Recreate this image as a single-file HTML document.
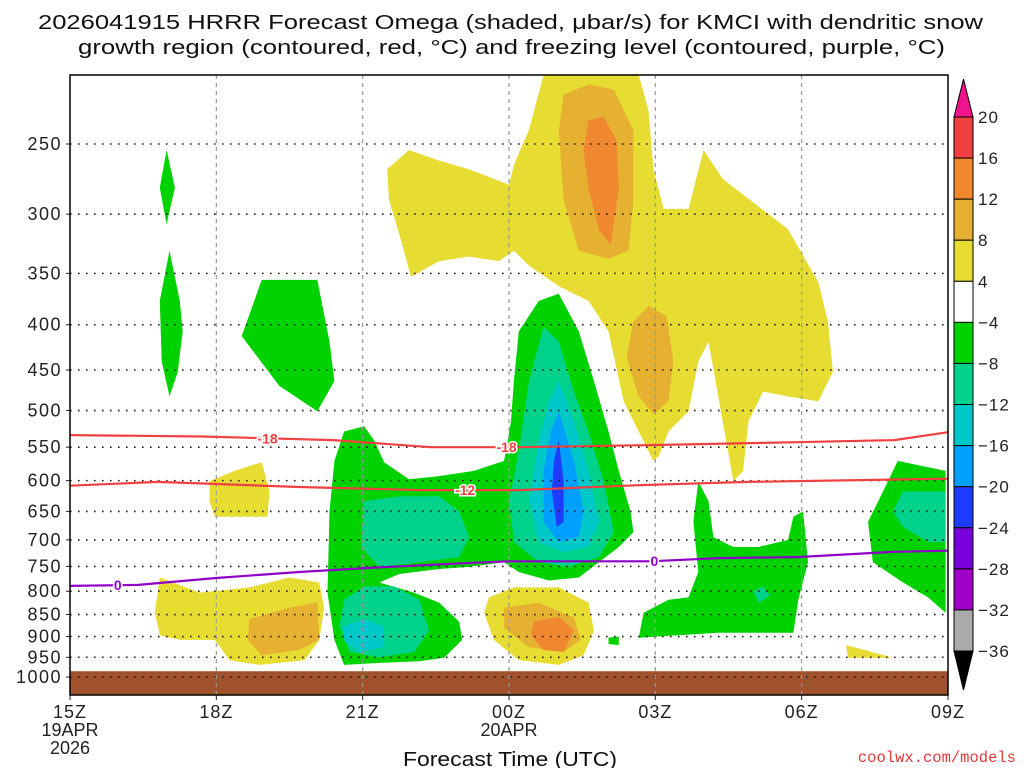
<!DOCTYPE html>
<html><head><meta charset="utf-8">
<style>
html,body{margin:0;padding:0;background:#fff;}
svg{display:block;font-family:"Liberation Sans",sans-serif;}
</style></head>
<body>
<svg id="chart" width="1024" height="768" viewBox="0 0 1024 768">
<rect x="0" y="0" width="1024" height="768" fill="#fff"/>
<text x="38" y="29" textLength="945" lengthAdjust="spacingAndGlyphs" font-size="20" fill="#111">2026041915 HRRR Forecast Omega (shaded, μbar/s) for KMCI with dendritic snow</text>
<text x="78" y="54" textLength="867" lengthAdjust="spacingAndGlyphs" font-size="20" fill="#111">growth region (contoured, red, °C) and freezing level (contoured, purple, °C)</text>
<g id="shade"></g>
<g id="grid"></g>
<g id="lines"></g>
<g id="axes"></g>
<g id="cbar"></g>
<text x="403" y="766" textLength="214" lengthAdjust="spacingAndGlyphs" font-size="20" fill="#111">Forecast Time (UTC)</text>
<text x="1016" y="762" text-anchor="end" font-size="15.5" fill="#e03a3a" font-family="Liberation Mono, monospace">coolwx.com/models</text>
</svg>
<script>
// ---- data ----
const pressureTicks = [250,300,350,400,450,500,550,600,650,700,750,800,850,900,950,1000];
const timeTickHours = [0,3,6,9,12,15,18];
const timeTickLabels = ["15Z","18Z","21Z","00Z","03Z","06Z","09Z"];
const dateLabels = {0:["19APR","2026"],9:["20APR"]};
const cbLevels = [20,16,12,8,4,-4,-8,-12,-16,-20,-24,-28,-32,-36];
const cbColors = ["#f04040","#f08830","#e6b030","#e6dc32","#ffffff","#00d200","#00d28c","#00c8c8","#00a0ff","#1e3cff","#7800dc","#a000c8","#aaaaaa"];
const minus18Hours = [0,2.7,5.4,7.4,9.2,11.9,14.9,16.9,18];
const minus18P = [533,535,540,550,550,547,543,540,529];
const minus12Hours = [0,1.8,4.7,7.2,9.2,11.7,13.9,18];
const minus12P = [608,602,610,615,615,607,602,597];
const zeroHours = [0,1.4,3.0,4.7,6.1,7.8,9.0,11.9,13.3,14.9,16.9,18];
const zeroP = [789,787,773,761,753,745,740,740,734,732,722,720];
const yellowTop = [[6.5,267],[6.95,254],[7.57,261],[8.18,267],[9.0,278],[9.1,264],[9.41,241],[9.71,209],[11.66,209],[11.86,229],[11.96,267],[12.17,296],[12.68,296],[12.99,254],[13.39,274],[14.72,312],[15.34,358],[15.54,397],[15.64,452],[15.34,488],[14.72,482],[14.21,476],[13.91,514],[13.8,585],[13.6,601],[13.09,418],[12.88,440],[12.68,501],[12.27,528],[12.07,563],[11.96,570],[11.66,528],[11.35,488],[11.04,407],[10.63,376],[10.02,362],[9.41,343],[9.1,330],[8.79,339],[8.18,335],[7.57,339],[6.99,353],[6.75,316],[6.54,289]];
const orangeTop = [[10.12,220],[10.63,214],[11.15,217],[11.55,241],[11.55,289],[11.45,330],[11.04,337],[10.43,330],[10.12,289],[10.02,241]];
const darkOrangeTop = [[10.63,235],[10.94,233],[11.21,248],[11.25,281],[11.08,325],[10.84,312],[10.63,281],[10.53,254]];
const orangeMid = [[11.86,381],[12.23,391],[12.37,440],[12.27,488],[11.96,505],[11.66,482],[11.41,435],[11.55,397]];
const green1 = [[1.98,254],[2.15,280],[1.98,308],[1.84,280]];
const green2 = [[2.04,330],[2.25,376],[2.31,407],[2.21,452],[2.04,482],[1.88,440],[1.84,376]];
const green3 = [[3.93,356],[5.07,356],[5.32,418],[5.42,463],[5.07,501],[4.29,469],[3.52,412]];
const greenBig = [[9.2,407],[9.61,376],[10.02,369],[10.43,407],[10.74,463],[11.04,528],[11.25,585],[11.49,650],[11.55,686],[11.25,713],[10.84,742],[10.43,772],[9.82,778],[9.2,761],[8.9,742],[8.18,751],[7.57,755],[6.75,765],[6.34,782],[7.06,803],[7.57,824],[7.98,866],[8.04,908],[7.67,951],[7.16,960],[6.34,964],[5.62,969],[5.42,908],[5.28,803],[5.32,650],[5.42,570],[5.62,528],[6.03,521],[6.24,541],[6.44,572],[6.95,598],[7.57,593],[8.28,585],[8.9,570],[9.04,514],[9.1,463]];
const teal21a = [[6.03,633],[6.75,625],[7.57,625],[7.98,650],[8.18,695],[7.98,732],[7.16,742],[6.34,751],[5.97,713]];
const teal21b = [[5.62,818],[6.03,790],[6.65,790],[7.16,818],[7.36,886],[7.06,937],[6.34,950],[5.73,937],[5.52,876]];
const cyan21 = [[5.62,876],[6.03,860],[6.44,876],[6.44,925],[5.93,937],[5.62,910]];
const tealBlob = [[9.71,402],[10.02,418],[10.33,476],[10.63,528],[10.94,601],[11.15,686],[10.84,732],[10.22,751],[9.61,742],[9.1,704],[9.0,633],[9.2,556],[9.41,463]];
const cyanBlob = [[10.02,463],[10.33,514],[10.63,585],[10.84,668],[10.63,713],[10.12,723],[9.61,704],[9.41,633],[9.61,541],[9.82,488]];
const blueBlob = [[10.02,501],[10.33,570],[10.53,650],[10.43,695],[10.02,704],[9.71,668],[9.71,585],[9.86,528]];
const darkBlueBlob = [[10.02,540],[10.12,601],[10.12,668],[9.98,677],[9.88,617],[9.92,570]];
const greenRight = [[12.88,601],[13.09,633],[13.19,695],[13.6,713],[14.11,713],[14.72,700],[14.83,659],[15.03,650],[15.13,742],[14.93,818],[14.83,891],[14.11,891],[13.29,891],[12.47,897],[11.66,903],[11.76,846],[12.27,818],[12.68,813],[12.88,761],[12.78,668]];
const tealRightSmall = [[14.01,800],[14.21,790],[14.35,808],[14.11,825]];
const greenBit = [[11.04,903],[11.25,900],[11.25,920],[11.04,918]];
const greenFar = [[16.97,570],[17.95,585],[17.95,846],[17.59,813],[17.08,782],[16.46,742],[16.36,668],[16.67,617]];
const tealFar = [[17.08,617],[17.95,617],[17.95,704],[17.59,704],[17.08,677],[16.87,650]];
const yellowLowLeft = [[1.84,772],[2.66,803],[3.68,792],[4.5,772],[5.11,782],[5.21,835],[5.11,908],[4.81,957],[3.89,969],[3.27,957],[2.97,908],[2.25,908],[1.84,897],[1.74,846]];
const orangeLowLeft = [[3.68,860],[4.5,835],[5.07,824],[5.11,908],[4.7,932],[3.93,945],[3.64,908]];
const yellowSmall = [[2.86,601],[3.37,585],[3.93,572],[4.09,617],[4.05,659],[2.97,659],[2.86,633]];
const yellowLowMid = [[8.59,813],[9.1,792],[10.02,792],[10.63,824],[10.74,886],[10.53,945],[10.02,969],[9.2,957],[8.69,908],[8.49,846]];
const orangeLowMid = [[8.9,835],[9.61,824],[10.33,857],[10.47,908],[10.12,937],[9.41,925],[8.9,880]];
const darkOrangeLowMid = [[9.51,866],[10.02,855],[10.33,886],[10.12,937],[9.71,932],[9.45,897]];
const yellowFarRight = [[15.91,920],[16.87,951],[15.95,951]];
const groundTopP = 985;

// ---- axes ----
const X0=70, X1=948, Y0=75, Y1=695;
const xScale = h => X0 + h*(X1-X0)/18;
const yScale = p => 144 + 384.5*Math.log(p/250);
const NS="http://www.w3.org/2000/svg";
function mk(tag, attrs, parent){const e=document.createElementNS(NS,tag);for(const k in attrs)e.setAttribute(k,attrs[k]);parent.appendChild(e);return e;}
const shade=document.getElementById('shade'), grid=document.getElementById('grid'), lines=document.getElementById('lines'), axes=document.getElementById('axes'), cbar=document.getElementById('cbar');

function poly(pts, color, name){
  const d = pts.map(q=>xScale(q[0]).toFixed(1)+','+yScale(q[1]).toFixed(1)).join(' ');
  const e = mk('polygon',{points:d,fill:color},shade);
  
  
}
const shapes = [
 [yellowTop,3,'omega-4to8-upper'],[orangeTop,2,'omega-8to12-upper'],[darkOrangeTop,1,'omega-12to16-upper'],[orangeMid,2,'omega-8to12-mid'],
 [green1,5,'omega-neg4-a'],[green2,5,'omega-neg4-b'],[green3,5,'omega-neg4-c'],[greenBig,5,'omega-neg4-main'],
 [teal21a,6,'omega-neg8-21z'],[teal21b,6,'omega-neg8-21z-low'],[cyan21,7,'omega-neg12-21z'],
 [tealBlob,6,'omega-neg8-core'],[cyanBlob,7,'omega-neg12-core'],[blueBlob,8,'omega-neg16-core'],[darkBlueBlob,9,'omega-neg20-core'],
 [greenRight,5,'omega-neg4-right'],[tealRightSmall,6,'omega-neg8-right'],[greenBit,5,'omega-neg4-bit'],
 [greenFar,5,'omega-neg4-far'],[tealFar,6,'omega-neg8-far'],
 [yellowLowLeft,3,'omega-4to8-low-left'],[orangeLowLeft,2,'omega-8to12-low-left'],[yellowSmall,3,'omega-4to8-small'],
 [yellowLowMid,3,'omega-4to8-low-mid'],[orangeLowMid,2,'omega-8to12-low-mid'],[darkOrangeLowMid,1,'omega-12to16-low-mid'],[yellowFarRight,3,'omega-4to8-far']
];
shapes.forEach(s=>poly(s[0], cbColors[s[1]], s[2]));

const gy = yScale(groundTopP);
const ground = mk('rect',{x:X0,y:gy,width:X1-X0,height:Y1-gy,fill:'#a0522d'},shade);



pressureTicks.forEach(p=>{
  const y=yScale(p);
  const l=mk('line',{x1:X0,x2:X1,y1:y,y2:y,stroke:'#222','stroke-width':1.6,'stroke-dasharray':'1.6 6.4'},grid);
  
  
  const tk=mk('line',{x1:X0-4,x2:X0,y1:y,y2:y,stroke:'#222'},axes);
  
  
  const t=mk('text',{x:X0-8,y:y+6,'text-anchor':'end','font-size':18,'letter-spacing':1.5,fill:'#222'},axes);
  t.textContent=p;
  
  
});
timeTickHours.forEach((h,i)=>{
  const x=xScale(h);
  if(i>0 && i<timeTickHours.length-1){
    const l=mk('line',{x1:x,x2:x,y1:Y0,y2:Y1,stroke:'#999','stroke-width':1.2,'stroke-dasharray':'4 4'},grid);
    
    
  }
  const tk=mk('line',{x1:x,x2:x,y1:Y1,y2:Y1+5,stroke:'#222'},axes);
  
  
  const t=mk('text',{x:x,y:Y1+23,'text-anchor':'middle','font-size':18,'letter-spacing':1,fill:'#222'},axes);
  t.textContent=timeTickLabels[i];
  
  
  (dateLabels[h]||[]).forEach((s,j)=>{
    const d=mk('text',{x:x,y:Y1+41+j*18,'text-anchor':'middle','font-size':18,fill:'#222'},axes);
    d.textContent=s;
    
    
  });
});
const bd=mk('rect',{x:X0,y:Y0,width:X1-X0,height:Y1-Y0,fill:'none',stroke:'#000','stroke-width':1.5},axes);



function contour(hs, ps, color, name, labels){
  const d = hs.map((h,i)=>(i?'L':'M')+xScale(h).toFixed(1)+','+yScale(ps[i]).toFixed(1)).join(' ');
  const e=mk('path',{d:d,fill:'none',stroke:color,'stroke-width':2.2},lines);
  
  
  labels.forEach(lb=>{
    const h=lb[0];
    let k=0; while(k<hs.length-2 && hs[k+1]<h) k++;
    const f=(h-hs[k])/(hs[k+1]-hs[k]);
    const y=yScale(ps[k]+f*(ps[k+1]-ps[k])), x=xScale(h);
    const t=mk('text',{x:x,y:y+5,'text-anchor':'middle','font-size':14,'font-weight':'bold',fill:color,stroke:'#fff','stroke-width':3,'paint-order':'stroke'},lines);
    t.textContent=lb[1];
    
    
  });
}
contour(minus18Hours, minus18P, '#f04040', 'contour-minus18', [[4.05,'-18'],[8.95,'-18']]);
contour(minus12Hours, minus12P, '#f04040', 'contour-minus12', [[8.1,'-12']]);
contour(zeroHours, zeroP, '#9000c8', 'freezing-level-contour', [[0.98,'0'],[11.98,'0']]);

const CBX=954, CBW=19, CBT=117, CBSTEP=(651-117)/13;
cbColors.forEach((c,i)=>{
  const r=mk('rect',{x:CBX,y:CBT+i*CBSTEP,width:CBW,height:CBSTEP,fill:c,stroke:'#000','stroke-width':1},cbar);
  
  
});
const up=mk('polygon',{points:`${CBX},${CBT} ${CBX+CBW},${CBT} ${CBX+CBW/2},${CBT-38}`,fill:'#f0148c',stroke:'#000'},cbar);


const dn=mk('polygon',{points:`${CBX},651 ${CBX+CBW},651 ${CBX+CBW/2},690`,fill:'#000',stroke:'#000'},cbar);


cbLevels.forEach((v,i)=>{
  const t=mk('text',{x:978,y:CBT+i*CBSTEP+6,'font-size':17,'letter-spacing':1,fill:'#222'},cbar);
  t.textContent=v<0?'\u2212'+(-v):String(v);
  
  
});
</script>
</body></html>
